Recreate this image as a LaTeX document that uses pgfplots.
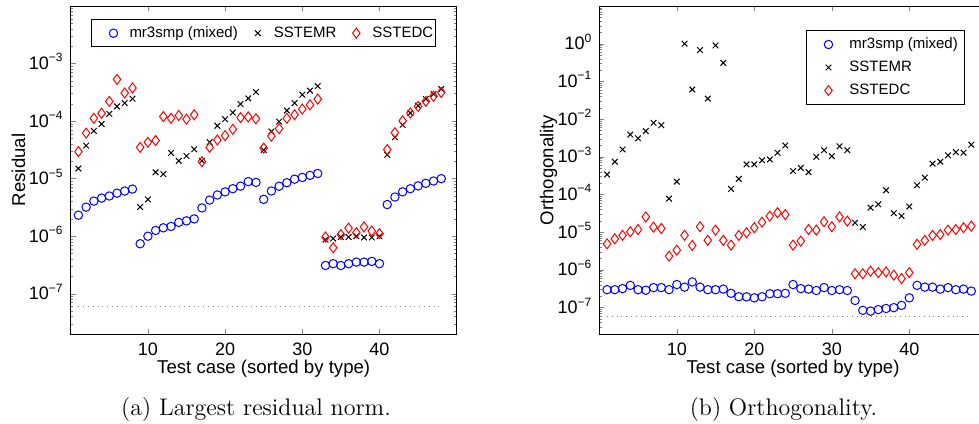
\documentclass[border=0pt]{standalone}
\usepackage{fontspec}
\usepackage{pgfplots}
\pgfplotsset{compat=1.18}
\usepackage{pgfplotstable}
\newfontfamily\helv{Liberation Sans}

\pgfplotstableread{
x a b c
1 2.32e-6 1.5e-5 2.95e-5
2 3.2e-6 3.75e-5 6.2e-5
3 4.07e-6 6.76e-5 1.12e-4
4 4.6e-6 8.9e-5 1.37e-4
5 5.0e-6 1.34e-4 2.2e-4
6 5.6e-6 1.8e-4 5.3e-4
7 6.1e-6 2.06e-4 3.08e-4
8 6.6e-6 2.45e-4 3.76e-4
9 7.4e-7 3.22e-6 3.5e-5
10 1.0e-6 4.36e-6 4.3e-5
11 1.26e-6 1.29e-5 4.6e-5
12 1.4e-6 1.2e-5 1.2e-4
13 1.48e-6 2.8e-5 1.12e-4
14 1.74e-6 2.04e-5 1.25e-4
15 1.85e-6 2.48e-5 1.08e-4
16 2.0e-6 3.24e-5 1.29e-4
17 3.1e-6 2.04e-5 1.97e-5
18 4.25e-6 4.3e-5 3.5e-5
19 5.2e-6 8.3e-5 4.7e-5
20 5.9e-6 1.08e-4 5.6e-5
21 6.7e-6 1.41e-4 7.2e-5
22 7.4e-6 1.98e-4 1.15e-4
23 8.9e-6 2.48e-4 1.18e-4
24 8.6e-6 3.2e-4 1.1e-4
25 4.37e-6 3.16e-5 3.4e-5
26 6.1e-6 6.6e-5 5.5e-5
27 7.4e-6 9.8e-5 7.4e-5
28 8.5e-6 1.53e-4 1.12e-4
29 9.8e-6 2.06e-4 1.29e-4
30 1.05e-5 2.88e-4 1.62e-4
31 1.14e-5 3.38e-4 1.92e-4
32 1.23e-5 4.07e-4 2.42e-4
33 3.1e-7 8.7e-7 9.7e-7
34 3.33e-7 9.1e-7 6.3e-7
35 3.1e-7 9.7e-7 1.07e-6
36 3.33e-7 9.7e-7 1.38e-6
37 3.55e-7 1.0e-6 1.15e-6
38 3.55e-7 9.5e-7 1.45e-6
39 3.65e-7 9.5e-7 1.23e-6
40 3.33e-7 1.0e-6 1.11e-6
41 3.55e-6 2.6e-5 3.2e-5
42 4.8e-6 5.25e-5 6.3e-5
43 5.9e-6 8.6e-5 1.01e-4
44 6.7e-6 1.38e-4 1.38e-4
45 7.5e-6 1.85e-4 1.8e-4
46 8.3e-6 2.42e-4 2.2e-4
47 9.1e-6 2.95e-4 2.7e-4
48 1.0e-5 3.6e-4 3.16e-4
}\resid

\pgfplotstableread{
x a b c
1 3.0e-7 3.4e-4 4.95e-6
2 3.0e-7 7.4e-4 6.7e-6
3 3.2e-7 1.57e-3 8.3e-6
4 3.9e-7 3.9e-3 1.03e-5
5 3.0e-7 3.1e-3 1.18e-5
6 2.9e-7 4.8e-3 2.56e-5
7 3.4e-7 8.0e-3 1.37e-5
8 3.4e-7 6.9e-3 1.26e-5
9 3.0e-7 7.8e-5 2.33e-6
10 4.1e-7 2.2e-4 3.35e-6
11 3.5e-7 1.0 8.3e-6
12 4.8e-7 0.061 4.47e-6
13 3.5e-7 0.68 1.4e-5
14 3.0e-7 0.035 6.1e-6
15 3.0e-7 0.90 1.14e-5
16 3.1e-7 0.31 6.1e-6
17 2.4e-7 1.41e-4 4.55e-6
18 1.95e-7 2.6e-4 8.2e-6
19 1.93e-7 6.3e-4 9.7e-6
20 1.82e-7 6.3e-4 1.32e-5
21 1.95e-7 8.1e-4 1.85e-5
22 2.34e-7 8.5e-4 2.67e-5
23 2.34e-7 1.28e-3 3.3e-5
24 2.4e-7 2.0e-3 2.95e-5
25 4.1e-7 4.2e-4 4.55e-6
26 3.2e-7 5.1e-4 5.8e-6
27 3.1e-7 3.9e-4 1.18e-5
28 2.85e-7 1.0e-3 1.14e-5
29 3.4e-7 1.5e-3 1.9e-5
30 2.85e-7 1.04e-3 1.4e-5
31 3.0e-7 1.9e-3 2.56e-5
32 2.85e-7 1.5e-3 1.97e-5
33 1.55e-7 1.78e-5 7.9e-7
34 8.5e-8 1.37e-5 7.9e-7
35 8.1e-8 4.5e-5 9.3e-7
36 8.9e-8 5.5e-5 8.5e-7
37 9.5e-8 1.3e-4 8.9e-7
38 1.0e-7 3.2e-5 7.3e-7
39 1.15e-7 2.7e-5 5.9e-7
40 1.82e-7 4.8e-5 8.5e-7
41 3.9e-7 1.76e-4 4.8e-6
42 3.5e-7 2.8e-4 6.1e-6
43 3.5e-7 6.6e-4 8.2e-6
44 3.1e-7 7.4e-4 8.7e-6
45 3.4e-7 1.1e-3 1.14e-5
46 3.0e-7 1.33e-3 1.18e-5
47 3.1e-7 1.29e-3 1.32e-5
48 2.75e-7 2.1e-3 1.45e-5
}\orth

\tikzset{
  mrA/.style={mark=o, mark size=2.1pt, blue, line width=0.5pt},
  mrB/.style={mark=x, mark size=2pt, black, line width=0.5pt},
  mrC/.style={mark=diamond, mark size=2.5pt, red, line width=0.5pt},
}

\begin{document}
\begin{tikzpicture}
\path[use as bounding box] (0pt,0pt) rectangle (489.5pt,-211.5pt);
\clip (0pt,0pt) rectangle (489.5pt,-211.5pt);

\begin{axis}[at={(35.35pt,-3pt)}, anchor=north west, width=193pt, height=164pt,
  scale only axis, ymode=log, xmin=0, xmax=50,
  xtick={10,20,30,40}, xticklabels={10,20,30,40},
  tick align=inside, major tick length=2.5pt, minor tick length=1.3pt,
  axis line style={line width=0.5pt},
  tick label style={font=\fontsize{9}{10}\selectfont\helv},
  xticklabel style={anchor=base, yshift=-10.5pt},
  yticklabel style={anchor=base east, yshift=-3pt},
  xlabel={Test case (sorted by type)},
  xlabel style={at={(axis description cs:0.5,-0.1198)}, anchor=base, inner sep=0pt, font=\fontsize{9.3}{11}\selectfont\helv},
  ylabel style={at={(axis description cs:-0.1184,0.5)}, anchor=base, inner sep=0pt, font=\fontsize{9.3}{11}\selectfont\helv},
  ymin=2e-8, ymax=1e-2,
  ytick={1e-7,1e-6,1e-5,1e-4,1e-3},
  yticklabels={10\textsuperscript{−7},10\textsuperscript{−6},10\textsuperscript{−5},10\textsuperscript{−4},10\textsuperscript{−3}},
  minor ytick={2e-8,3e-8,4e-8,5e-8,6e-8,7e-8,8e-8,9e-8,
    2e-7,3e-7,4e-7,5e-7,6e-7,7e-7,8e-7,9e-7,
    2e-6,3e-6,4e-6,5e-6,6e-6,7e-6,8e-6,9e-6,
    2e-5,3e-5,4e-5,5e-5,6e-5,7e-5,8e-5,9e-5,
    2e-4,3e-4,4e-4,5e-4,6e-4,7e-4,8e-4,9e-4,
    2e-3,3e-3,4e-3,5e-3,6e-3,7e-3,8e-3,9e-3},
  ylabel={Residual},
  legend columns=3,
  legend style={at={(axis description cs:0.0526,0.9604)}, anchor=north west,
    draw=black, line width=0.5pt, fill=white, inner xsep=1pt, inner ysep=3.3pt,
    font=\fontsize{7.5}{9}\selectfont\helv, cells={anchor=west},
    nodes={inner sep=0pt, text height=5.6pt, text depth=1.5pt},
    /tikz/every odd column/.append style={column sep=4pt}},
  legend image code/.code={\path[draw=none] (0pt,0pt) -- (14pt,0pt); \draw[#1] plot coordinates {(10pt,0pt)};},
]
\addplot[only marks, mrA] table[x=x,y=a]{\resid};
\addlegendentry{mr3smp (mixed)}
\addplot[only marks, mrB] table[x=x,y=b]{\resid};
\addlegendentry{SSTEMR}
\addplot[only marks, mrC] table[x=x,y=c]{\resid};
\addlegendentry{SSTEDC}
\addplot[forget plot, gray, line width=0.4pt, dotted] coordinates {(1,5.96e-8) (48,5.96e-8)};
\end{axis}

\begin{axis}[at={(299.65pt,-3pt)}, anchor=north west, width=193.75pt, height=164pt,
  scale only axis, ymode=log, xmin=0, xmax=50,
  xtick={10,20,30,40}, xticklabels={10,20,30,40},
  tick align=inside, major tick length=2.5pt, minor tick length=1.3pt,
  axis line style={line width=0.5pt},
  tick label style={font=\fontsize{9}{10}\selectfont\helv},
  xticklabel style={anchor=base, yshift=-10.5pt},
  yticklabel style={anchor=base east, yshift=-3pt},
  xlabel={Test case (sorted by type)},
  xlabel style={at={(axis description cs:0.5,-0.1198)}, anchor=base, inner sep=0pt, font=\fontsize{9.3}{11}\selectfont\helv},
  ylabel style={at={(axis description cs:-0.1184,0.5)}, anchor=base, inner sep=0pt, font=\fontsize{9.3}{11}\selectfont\helv},
  ymin=2e-8, ymax=10,
  ytick={1e-7,1e-6,1e-5,1e-4,1e-3,1e-2,1e-1,1},
  yticklabels={10\textsuperscript{−7},10\textsuperscript{−6},10\textsuperscript{−5},10\textsuperscript{−4},10\textsuperscript{−3},10\textsuperscript{−2},10\textsuperscript{−1},10\textsuperscript{0}},
  minor ytick={2e-8,3e-8,4e-8,5e-8,6e-8,7e-8,8e-8,9e-8,
    2e-7,3e-7,4e-7,5e-7,6e-7,7e-7,8e-7,9e-7,
    2e-6,3e-6,4e-6,5e-6,6e-6,7e-6,8e-6,9e-6,
    2e-5,3e-5,4e-5,5e-5,6e-5,7e-5,8e-5,9e-5,
    2e-4,3e-4,4e-4,5e-4,6e-4,7e-4,8e-4,9e-4,
    2e-3,3e-3,4e-3,5e-3,6e-3,7e-3,8e-3,9e-3,
    2e-2,3e-2,4e-2,5e-2,6e-2,7e-2,8e-2,9e-2,
    2e-1,3e-1,4e-1,5e-1,6e-1,7e-1,8e-1,9e-1,
    2,3,4,5,6,7,8,9},
  ylabel={Orthogonality},
  legend style={at={(axis description cs:0.5326,0.9259)}, anchor=north west,
    draw=black, line width=0.5pt, fill=white, inner xsep=3.15pt, inner ysep=3.3pt,
    font=\fontsize{7.5}{9}\selectfont\helv, cells={anchor=west},
    nodes={inner sep=0pt, text height=5.6pt, text depth=1.5pt},
    row sep=4.4pt,
    /tikz/every odd column/.append style={column sep=6.5pt}},
  legend image code/.code={\path[draw=none] (0pt,0pt) -- (12pt,0pt); \draw[#1] plot coordinates {(8pt,0pt)};},
]
\addplot[only marks, mrA] table[x=x,y=a]{\orth};
\addlegendentry{mr3smp (mixed)}
\addplot[only marks, mrB] table[x=x,y=b]{\orth};
\addlegendentry{SSTEMR}
\addplot[only marks, mrC] table[x=x,y=c]{\orth};
\addlegendentry{SSTEDC}
\addplot[forget plot, gray, line width=0.4pt, dotted] coordinates {(1,5.96e-8) (48,5.96e-8)};
\end{axis}

\node[anchor=base, font=\fontsize{12}{14}\selectfont] at (128pt,-207.5pt) {(a) Largest residual norm.};
\node[anchor=base, font=\fontsize{12}{14}\selectfont] at (391.75pt,-207.5pt) {(b) Orthogonality.};
\end{tikzpicture}
\end{document}
